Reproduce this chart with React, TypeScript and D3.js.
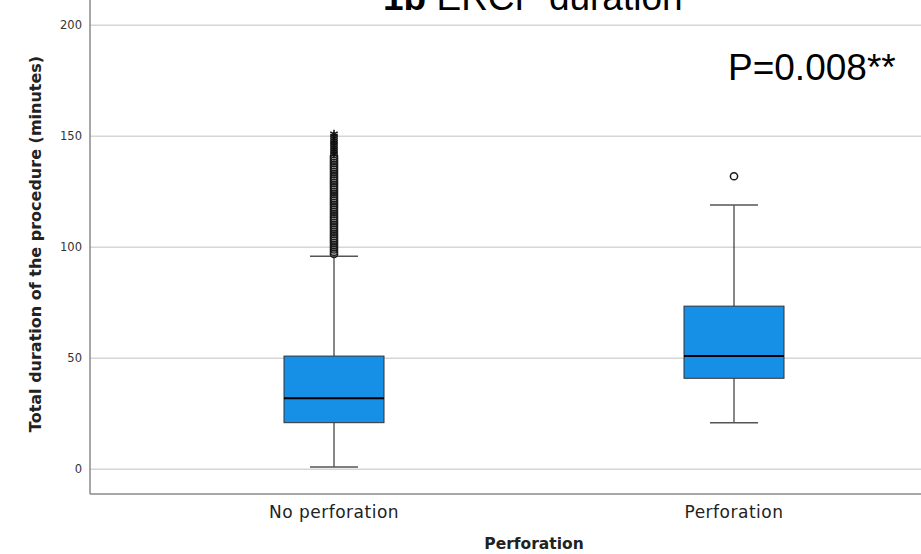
import React from 'react';
import * as d3 from 'd3';

// categories and box statistics (minutes)
const categories = ['No perforation', 'Perforation'];
const lowerWhisker = [1, 21];
const q1 = [21, 41];
const median = [32, 51];
const q3 = [51, 73.5];
const upperWhisker = [96, 119];

// outliers (circles) and extremes (asterisks)
const outliersNo = [97, 98, 99, 100, 101, 102, 103, 104, 105, 106, 107, 108, 109, 110, 111, 112, 113, 114, 115, 116, 117, 118, 119, 120, 121, 122, 123, 124, 125, 126, 127, 128, 129, 130, 131, 132, 133, 134, 135, 136, 137, 138, 139, 140, 141];
const extremesNo = [142, 143, 144, 145, 146, 147, 148, 149, 150, 151];
const outliersPerf = [132];
const outliers = [outliersNo, outliersPerf];
const extremes = [extremesNo, []];

const yTicks = [0, 50, 100, 150, 200];

const width = 921;
const height = 554;
const plotLeft = 90;
const plotBottom = 494;

const App = () => {
  const yScale = d3.scaleLinear().domain([0, 200]).range([469.3, 25.3]);
  const xScale = d3.scaleBand().domain(categories).range([134, 934]);
  const boxW = 100;
  const capW = 48;
  const star = d3.symbol().type(d3.symbolAsterisk).size(50)();

  return (
    <svg width={width} height={height} style={{ position: 'absolute', left: 0, top: 0, background: '#fff' }}>
      {/* gridlines */}
      {yTicks.map(t => (
        <line key={'g' + t} x1={plotLeft} x2={width} y1={yScale(t)} y2={yScale(t)} stroke="#d6d6d6" strokeWidth={1.5} />
      ))}
      {/* axes */}
      <line x1={plotLeft} x2={plotLeft} y1={0} y2={plotBottom} stroke="#8a8a8a" strokeWidth={1.5} />
      <line x1={plotLeft} x2={width} y1={plotBottom} y2={plotBottom} stroke="#8a8a8a" strokeWidth={1.5} />
      {yTicks.map(t => (
        <text key={'t' + t} x={82} y={yScale(t)} dy="0.35em" textAnchor="end" fontFamily="DejaVu Sans" fontSize={11.5} fill="#333">{t}</text>
      ))}
      {categories.map(c => (
        <text key={'c' + c} x={xScale(c)! + xScale.bandwidth() / 2} y={518} textAnchor="middle" fontFamily="DejaVu Sans" fontSize={17} letterSpacing={0.5} fill="#222">{c}</text>
      ))}
      <text x={534} y={549} textAnchor="middle" fontFamily="DejaVu Sans" fontWeight="bold" fontSize={15.5} fill="#222">Perforation</text>
      <text transform={`translate(41,244) rotate(-90)`} textAnchor="middle" fontFamily="DejaVu Sans" fontWeight="bold" fontSize={16} fill="#222">Total duration of the procedure (minutes)</text>

      {/* boxes */}
      {categories.map((c, i) => {
        const cx = xScale(c)! + xScale.bandwidth() / 2;
        return (
          <g key={'b' + c}>
            <line x1={cx} x2={cx} y1={yScale(upperWhisker[i])} y2={yScale(q3[i])} stroke="#111" strokeWidth={1} />
            <line x1={cx} x2={cx} y1={yScale(q1[i])} y2={yScale(lowerWhisker[i])} stroke="#111" strokeWidth={1} />
            <line x1={cx - capW / 2} x2={cx + capW / 2} y1={yScale(upperWhisker[i])} y2={yScale(upperWhisker[i])} stroke="#555" strokeWidth={1.5} />
            <line x1={cx - capW / 2} x2={cx + capW / 2} y1={yScale(lowerWhisker[i])} y2={yScale(lowerWhisker[i])} stroke="#555" strokeWidth={1.5} />
            <rect x={cx - boxW / 2} y={yScale(q3[i])} width={boxW} height={yScale(q1[i]) - yScale(q3[i])} fill="#1590e6" stroke="#333" strokeWidth={1} />
            <line x1={cx - boxW / 2} x2={cx + boxW / 2} y1={yScale(median[i])} y2={yScale(median[i])} stroke="#000" strokeWidth={2} />
            {outliers[i].map((v, j) => (
              <circle key={'o' + j} cx={cx} cy={yScale(v)} r={3.6} fill="none" stroke="#1a1a1a" strokeWidth={1.5} />
            ))}
            {extremes[i].map((v, j) => (
              <path key={'e' + j} d={star} transform={`translate(${cx},${yScale(v)})`} fill="none" stroke="#111" strokeWidth={1.5} />
            ))}
          </g>
        );
      })}

      {/* title and p-value */}
      <text x={383} y={10} fontFamily="Liberation Sans" fontSize={37} fill="#000">
        <tspan fontWeight="bold">1b</tspan> ERCP duration
      </text>
      <text x={728} y={80} fontFamily="Liberation Sans" fontSize={37} fill="#000">P=0.008**</text>
    </svg>
  );
};

export default App;
